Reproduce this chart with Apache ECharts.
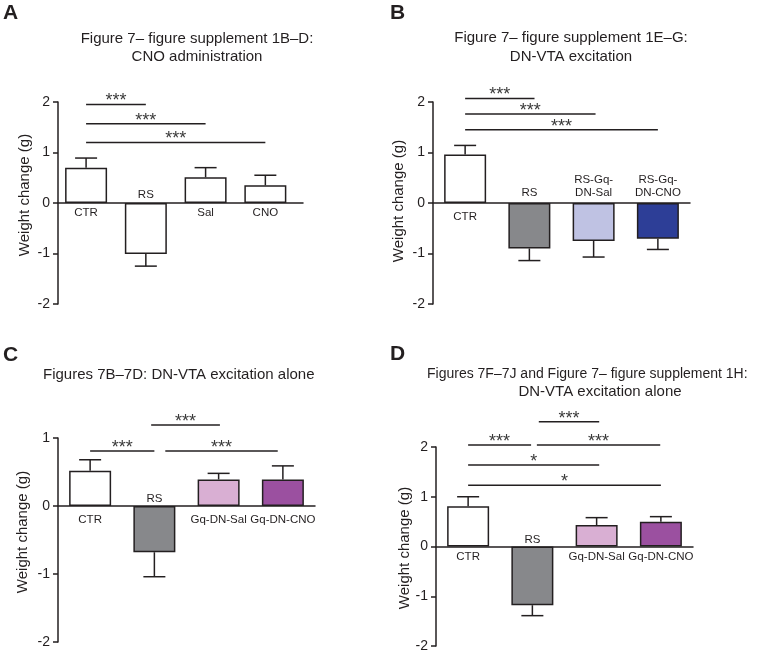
<!DOCTYPE html>
<html><head><meta charset="utf-8">
<script src="https://cdn.jsdelivr.net/npm/echarts@6/dist/echarts.min.js"></script>
<style>html,body{margin:0;padding:0;background:#fff}#c{width:769px;height:653px}</style>
</head><body><div id="c"></div>
<script>
// ---------- data ----------
const catA = ['CTR', 'RS', 'Sal', 'CNO'];
const meanA = [0.70, -1.01, 0.51, 0.35];
const semA = [0.19, 0.24, 0.19, 0.20];
const sigA = [[0, 1, 1.95, '***'], [0, 2, 1.57, '***'], [0, 3, 1.20, '***']];

const catB = ['CTR', 'RS', 'RS-Gq-\nDN-Sal', 'RS-Gq-\nDN-CNO'];
const meanB = [0.96, -0.90, -0.75, -0.71];
const semB = [0.18, 0.24, 0.32, 0.21];
const sigB = [[0, 1.08, 2.07, '***'], [0, 2.03, 1.76, '***'], [0, 3.0, 1.45, '***']];

const catC = ['CTR', 'RS', 'Gq-DN-Sal', 'Gq-DN-CNO'];
const meanC = [0.52, -0.68, 0.39, 0.39];
const semC = [0.16, 0.36, 0.09, 0.20];
const sigC = [[0, 1, 0.81, '***'], [0.95, 2.02, 1.19, '***'], [1.17, 2.92, 0.81, '***']];

const catD = ['CTR', 'RS', 'Gq-DN-Sal', 'Gq-DN-CNO'];
const meanD = [0.81, -1.18, 0.43, 0.50];
const semD = [0.19, 0.21, 0.15, 0.10];
const sigD = [[1.1, 2.04, 2.51, '***'], [0, 0.98, 2.04, '***'], [1.07, 2.99, 2.04, '***'], [0, 2.04, 1.64, '*'], [0, 3.0, 1.23, '*']];

const yTicksA = [-2, -1, 0, 1, 2];
const yTicksC = [-2, -1, 0, 1];

// ---------- styles ----------
const INK = '#231f20';
const FONT = '"Liberation Sans", Arial, sans-serif';
const colA = ['#ffffff', '#ffffff', '#ffffff', '#ffffff'];
const colB = ['#ffffff', '#87888b', '#bfc2e3', '#2d3e97'];
const colC = ['#ffffff', '#87888b', '#d9afd3', '#9b50a0'];
const colD = colC;

const panels = [
  {cats: catA, mean: meanA, sem: semA, sig: sigA, colors: colA, ticks: yTicksA,
   grid: {left: 58, top: 102, width: 245, height: 202}, xmin: -0.47, xmax: 3.63, below: 3, above: 1.5},
  {cats: catB, mean: meanB, sem: semB, sig: sigB, colors: colB, ticks: yTicksA,
   grid: {left: 433, top: 102, width: 257, height: 202}, xmin: -0.5, xmax: 3.5, below: 7, above: 3.5},
  {cats: catC, mean: meanC, sem: semC, sig: sigC, colors: colC, ticks: yTicksC,
   grid: {left: 58, top: 438, width: 257, height: 204}, xmin: -0.5, xmax: 3.5, below: 7.5, above: 0.5},
  {cats: catD, mean: meanD, sem: semD, sig: sigD, colors: colD, ticks: yTicksA,
   grid: {left: 436, top: 447, width: 257, height: 201}, xmin: -0.5, xmax: 3.5, below: 4, above: 0.5}
];

const grids = [], xAxes = [], yAxes = [], series = [];

panels.forEach((p, k) => {
  grids.push(Object.assign({containLabel: false}, p.grid));
  xAxes.push({
    type: 'value', gridIndex: k, min: p.xmin, max: p.xmax,
    axisLine: {show: true, onZero: true, lineStyle: {color: INK, width: 1.5}},
    axisTick: {show: false}, axisLabel: {show: false}, splitLine: {show: false}
  });
  yAxes.push({
    type: 'value', gridIndex: k, min: p.ticks[0], max: p.ticks[p.ticks.length - 1], interval: 1,
    axisLine: {show: true, onZero: false, lineStyle: {color: INK, width: 1.5}},
    axisTick: {show: true, length: 5, lineStyle: {color: INK, width: 1.5}},
    axisLabel: {fontSize: 14, color: INK, fontFamily: FONT, margin: 8},
    splitLine: {show: false}
  });
  // bars
  series.push({
    type: 'bar', xAxisIndex: k, yAxisIndex: k, barWidth: 42, z: 2,
    data: p.mean.map((v, i) => ({value: [i, v], itemStyle: {color: p.colors[i]}})),
    itemStyle: {borderColor: INK, borderWidth: 1.5},
    silent: true, animation: false
  });
  // error bars (away from zero)
  series.push({
    type: 'custom', xAxisIndex: k, yAxisIndex: k, z: 3, silent: true, animation: false,
    data: p.mean.map((v, i) => [i, v, v >= 0 ? v + p.sem[i] : v - p.sem[i]]),
    renderItem: (params, api) => {
      const x = api.value(0);
      const a = api.coord([x, api.value(1)]);
      const b = api.coord([x, api.value(2)]);
      const cap = 11;
      const st = {stroke: INK, lineWidth: 1.5};
      return {type: 'group', children: [
        {type: 'line', shape: {x1: a[0], y1: a[1], x2: b[0], y2: b[1]}, style: st},
        {type: 'line', shape: {x1: b[0] - cap, y1: b[1], x2: b[0] + cap, y2: b[1]}, style: st}
      ]};
    }
  });
  // category labels near zero line
  series.push({
    type: 'custom', xAxisIndex: k, yAxisIndex: k, z: 4, silent: true, animation: false,
    data: p.mean.map((v, i) => [i, v]),
    renderItem: (params, api) => {
      const i = api.value(0), v = api.value(1);
      const c = api.coord([i, 0]);
      const pos = v >= 0;
      return {type: 'text', x: c[0], y: pos ? c[1] + p.below : c[1] - p.above,
        style: {text: p.cats[params.dataIndex], fill: INK, fontSize: 11.5, fontFamily: FONT, lineHeight: 13,
          align: 'center', textAlign: 'center',
          verticalAlign: pos ? 'top' : 'bottom', textVerticalAlign: pos ? 'top' : 'bottom'}};
    }
  });
  // significance brackets
  series.push({
    type: 'custom', xAxisIndex: k, yAxisIndex: k, z: 4, silent: true, animation: false, clip: false,
    data: p.sig.map(s => [s[0], s[1], s[2]]),
    renderItem: (params, api) => {
      const a = api.coord([api.value(0), api.value(2)]);
      const b = api.coord([api.value(1), api.value(2)]);
      return {type: 'group', children: [
        {type: 'line', shape: {x1: a[0], y1: a[1], x2: b[0], y2: b[1]}, style: {stroke: INK, lineWidth: 1.5}},
        {type: 'text', x: (a[0] + b[0]) / 2, y: a[1] - 3,
          style: {text: p.sig[params.dataIndex][3], fill: '#3a3a3a', fontSize: 18, fontFamily: FONT,
            align: 'center', textAlign: 'center', verticalAlign: 'middle', textVerticalAlign: 'middle'}}
      ]};
    }
  });
});

function txt(text, x, y, size, opts) {
  opts = opts || {};
  return {type: 'text', x: x, y: y, rotation: opts.rot || 0, silent: true,
    style: {text: text, fill: INK, fontSize: size, fontFamily: FONT, fontWeight: opts.bold ? 'bold' : 'normal',
      align: opts.align || 'center', textAlign: opts.align || 'center',
      verticalAlign: 'middle', textVerticalAlign: 'middle'}};
}

const graphics = [
  txt('A', 3, 13, 21, {bold: true, align: 'left'}),
  txt('B', 390, 13, 21, {bold: true, align: 'left'}),
  txt('C', 3, 355, 21, {bold: true, align: 'left'}),
  txt('D', 390, 354, 21, {bold: true, align: 'left'}),
  txt('Figure 7\u2013 figure supplement 1B\u2013D:', 197, 39, 15),
  txt('CNO administration', 197, 57, 15),
  txt('Figure 7\u2013 figure supplement 1E\u2013G:', 571, 38, 15),
  txt('DN-VTA excitation', 571, 57, 15),
  txt('Figures 7B\u20137D: DN-VTA excitation alone', 43, 375, 15, {align: 'left'}),
  txt('Figures 7F\u20137J and Figure 7\u2013 figure supplement 1H:', 427, 374, 14, {align: 'left'}),
  txt('DN-VTA excitation alone', 600, 392, 15),
  txt('Weight change (g)', 25, 195, 15, {rot: Math.PI / 2}),
  txt('Weight change (g)', 399, 201, 15, {rot: Math.PI / 2}),
  txt('Weight change (g)', 23, 532, 15, {rot: Math.PI / 2}),
  txt('Weight change (g)', 405, 548, 15, {rot: Math.PI / 2})
];

const chart = echarts.init(document.getElementById('c'), null, {renderer: 'canvas'});
chart.setOption({
  animation: false,
  backgroundColor: '#ffffff',
  grid: grids, xAxis: xAxes, yAxis: yAxes, series: series,
  graphic: graphics
});
</script></body></html>
